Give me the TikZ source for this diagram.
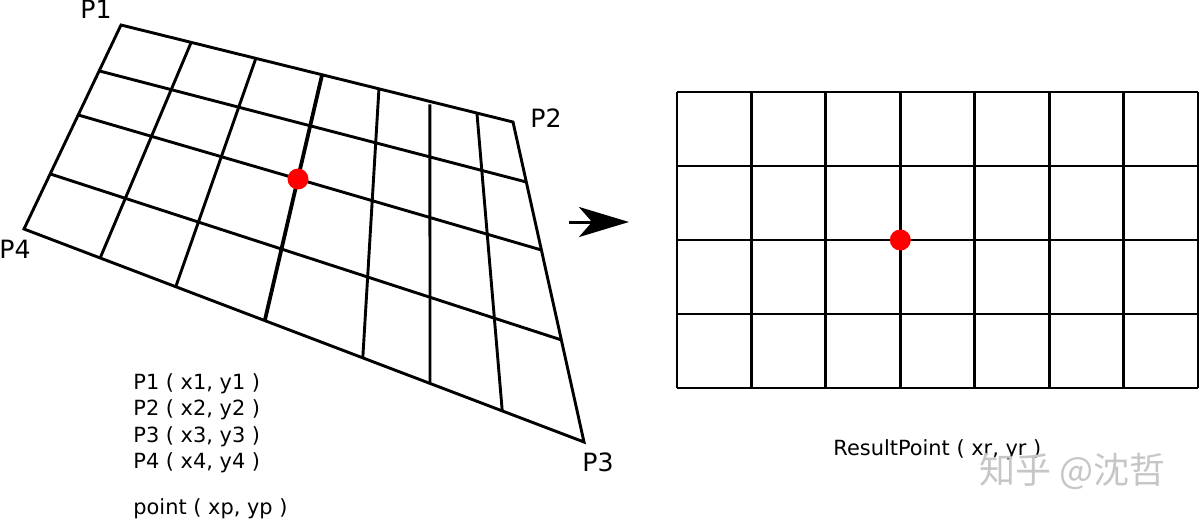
\documentclass[tikz,border=0pt]{standalone}
\usepackage{fontspec}
\setmainfont{DejaVu Sans}
\newfontfamily\cjk{Noto Sans CJK SC}
\usetikzlibrary{calc,arrows.meta}
\begin{document}
\begin{tikzpicture}[x=0.5pt,y=-0.5pt,
  gridline/.style={line width=1.45pt, line join=miter},
  heavyline/.style={line width=1.9pt},
  lbl/.style={font=\fontsize{12.6}{14}\selectfont, inner sep=0pt, anchor=base west},
  txt/.style={font=\fontsize{10.45}{12}\selectfont, inner sep=0pt, anchor=base west},
  reddot/.style={circle, fill=red, draw=none, inner sep=0pt, minimum size=10.5pt},
  wmark/.style={font=\cjk\fontsize{18}{20}\selectfont, inner sep=0pt, anchor=base west}]
\useasboundingbox (0,0) rectangle (1200,519);
% ---------- left quadrilateral ----------
\coordinate (P1) at (121,25);
\coordinate (P2) at (513,122);
\coordinate (P3) at (584,442);
\coordinate (P4) at (24,229);
\draw[gridline] (P1) -- (P2) -- (P3) -- (P4) -- cycle;
\foreach \a/\b in {0.225/0.1875, 0.441/0.4, 0.73/0.681}
  \draw[gridline] ($(P1)!\a!(P4)$) -- ($(P2)!\b!(P3)$);
\foreach \a/\b in {0.179/0.136, 0.344/0.271, 0.658/0.605, 0.908/0.854}
  \draw[gridline] ($(P1)!\a!(P2)$) -- ($(P4)!\b!(P3)$);
\draw[gridline] ($(P1)!0.788!(P2)+(0,3)$) -- ($(P4)!0.725!(P3)$);
\draw[heavyline] ($(P1)!0.513!(P2)$) -- ($(P4)!0.430!(P3)$);
\node[reddot] (dotL) at (298,179) {};
% corner labels
\node[lbl] (l1) at (80,18.5) {P1};
\node[lbl] (l2) at (530,127) {P2};
\node[lbl] (l3) at (582,471) {P3};
\node[lbl] (l4) at (-1,258) {P4};
% text block
\node[txt] (t1) at (133,389.5) {P1 ( x1, y1 )};
\node[txt] (t2) at (133,415.8) {P2 ( x2, y2 )};
\node[txt] (t3) at (133,442.1) {P3 ( x3, y3 )};
\node[txt] (t4) at (133,468.4) {P4 ( x4, y4 )};
\node[txt] (t5) at (133,514) {point ( xp, yp )};
% ---------- arrow ----------
\coordinate (aS) at (569,222);
\coordinate (aE) at (629,222);
\draw[line width=1.5pt, -{Stealth[length=25pt,width=15pt,inset=6.5pt]}] (aS) -- (aE);
% ---------- right grid ----------
\foreach \i in {0,...,7}
  \draw[gridline] ({677+74.43*\i},92) -- ({677+74.43*\i},388);
\foreach \j in {0,...,4}
  \draw[gridline] (677,{92+74*\j}) -- (1198,{92+74*\j});
\node[reddot] (dotR) at (900.3,240) {};
\node[txt] (res) at (833,455) {ResultPoint ( xr, yr )};
% watermark
\node[wmark, text=gray!45] (wm) at (979,483) {知乎 @沈哲};
\end{tikzpicture}
\end{document}
